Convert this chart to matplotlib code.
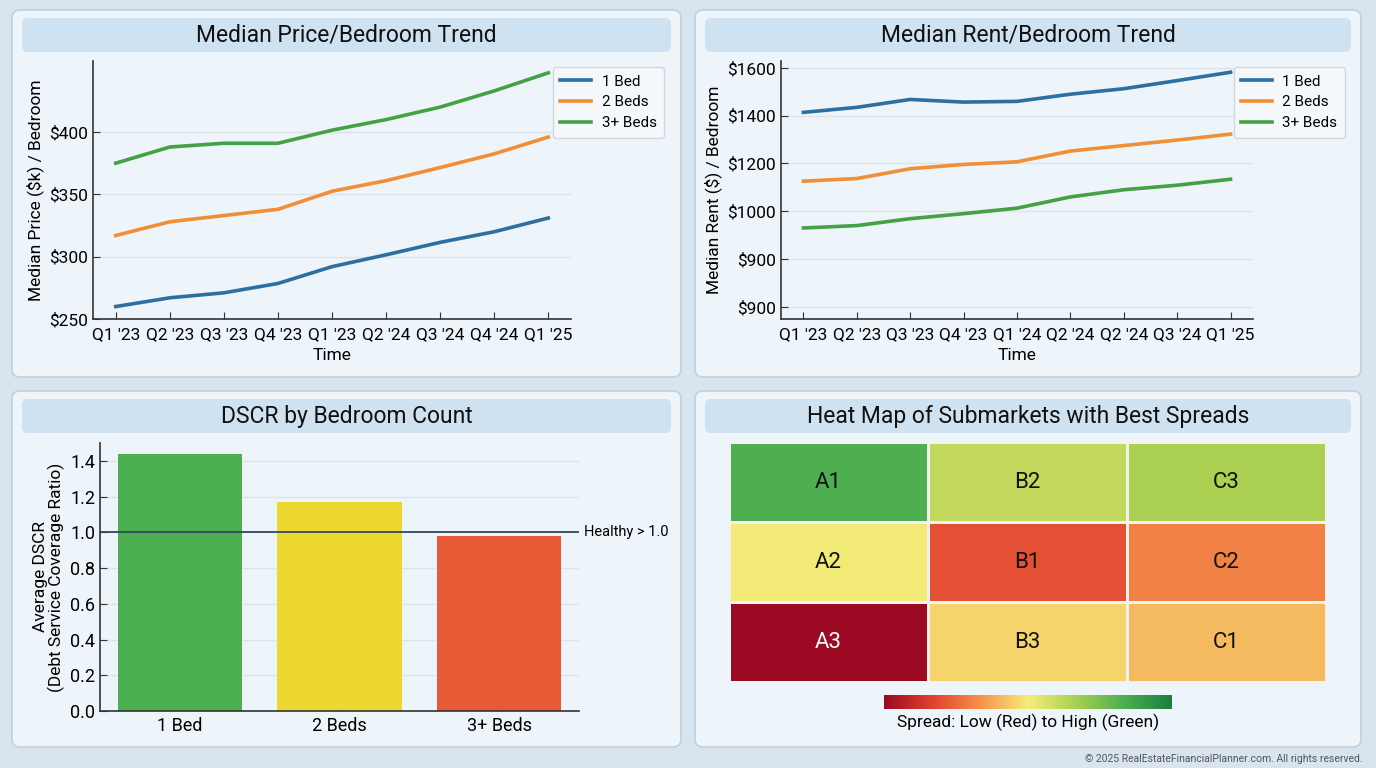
import numpy as np
import matplotlib
matplotlib.use('Agg')
import matplotlib.pyplot as plt
from matplotlib.patches import FancyBboxPatch
from matplotlib.colors import LinearSegmentedColormap, Normalize
from matplotlib.cm import ScalarMappable

plt.rcParams['font.family'] = ['Roboto', 'DejaVu Sans']

# data
price_quarters = ["Q1 '23", "Q2 '23", "Q3 '23", "Q4 '23", "Q1 '23", "Q2 '24", "Q3 '24", "Q4 '24", "Q1 '25"]
price_1bed = [260, 267, 271, 278.5, 292, 301.5, 311.5, 320, 331]
price_2beds = [317, 328, 333, 338, 352.5, 361, 371.5, 382.5, 396]
price_3beds = [375, 388, 391, 391, 401.5, 410, 420, 433, 447.5]

rent_quarters = ["Q1 '23", "Q2 '23", "Q3 '23", "Q4 '23", "Q1 '24", "Q2 '24", "Q2 '24", "Q3 '24", "Q1 '25"]
rent_1bed = [1414, 1435, 1468, 1457, 1460, 1490, 1513, 1547, 1582]
rent_2beds = [1126, 1137, 1178, 1196, 1207, 1252, 1275, 1298, 1323]
rent_3beds = [930, 940, 969, 990, 1013, 1060, 1090, 1109, 1134]
rent_ticks = [600, 800, 1000, 1200, 1400, 1600]
rent_tick_labels = ['$900', '$900', '$1000', '$1200', '$1400', '$1600']

dscr_labels = ['1 Bed', '2 Beds', '3+ Beds']
dscr_values = [1.44, 1.17, 0.98]
dscr_colors = ['#4caf50', '#ecd830', '#e65a36']

heat_labels = [['A1', 'B2', 'C3'], ['A2', 'B1', 'C2'], ['A3', 'B3', 'C1']]
heat_values = [[0.83, 0.61, 0.66], [0.51, 0.20, 0.30], [0.0, 0.455, 0.41]]

series_names = ['1 Bed', '2 Beds', '3+ Beds']
line_colors = ['#2d6fa0', '#f28e35', '#45a146']

W, H = 1376, 768
fig = plt.figure(figsize=(W / 100, H / 100), dpi=100)
fig.patch.set_facecolor('#d8e5ee')


def ax_px(x0, y0, x1, y1):
    return fig.add_axes([x0 / W, 1 - y1 / H, (x1 - x0) / W, (y1 - y0) / H])


# background panels in pixel coordinates
bg = fig.add_axes([0, 0, 1, 1], zorder=-10)
bg.set_xlim(0, W)
bg.set_ylim(H, 0)
bg.axis('off')
panels = [(12, 10, 681, 377, 'Median Price/Bedroom Trend'),
          (695, 10, 1361, 377, 'Median Rent/Bedroom Trend'),
          (12, 391, 681, 747, 'DSCR by Bedroom Count'),
          (695, 391, 1361, 747, 'Heat Map of Submarkets with Best Spreads')]
for x0, y0, x1, y1, title in panels:
    bg.add_patch(FancyBboxPatch((x0, y0), x1 - x0, y1 - y0, boxstyle='round,pad=0,rounding_size=8',
                                fc='#eef5fa', ec='#c3d0da', lw=1.2))
    bg.add_patch(FancyBboxPatch((x0 + 10, y0 + 8), x1 - x0 - 20, 34, boxstyle='round,pad=0,rounding_size=6',
                                fc='#cfe2f1', ec='none'))
    bg.text((x0 + x1) / 2, y0 + 25, title, ha='center', va='center', fontsize=16.5, color='#111111')
bg.text(1363, 759, '\u00a9 2025 RealEstateFinancialPlanner.com. All rights reserved.',
        ha='right', va='center', fontsize=7.5, color='#555555')


def style_line_ax(ax):
    ax.set_facecolor('none')
    for s in ['top', 'right']:
        ax.spines[s].set_visible(False)
    for s in ['left', 'bottom']:
        ax.spines[s].set_color('#333333')
        ax.spines[s].set_linewidth(1.2)
    ax.grid(axis='y', color='#dde3e8', lw=1)
    ax.set_axisbelow(True)
    ax.tick_params(direction='in', length=5, color='#333333', labelsize=12.5)
    ax.tick_params(axis='x', pad=6)


def add_legend(ax):
    ax.legend(loc='upper right', bbox_to_anchor=(1.195, 0.977), borderaxespad=0, fontsize=11,
              frameon=True, facecolor='#f4f8fb', edgecolor='#d0d8de', handlelength=2.0,
              handletextpad=0.7, borderpad=0.5, labelspacing=0.45, framealpha=1)


# price trend
ax1 = ax_px(93, 61, 571, 319)
x = np.arange(len(price_quarters))
for vals, name, c in zip([price_1bed, price_2beds, price_3beds], series_names, line_colors):
    ax1.plot(x, vals, color=c, lw=2.6, label=name)
ax1.set_xticks(x)
ax1.set_xticklabels(price_quarters)
ax1.set_yticks([250, 300, 350, 400])
ax1.set_yticklabels(['$250', '$300', '$350', '$400'])
ax1.set_xlim(-0.42, 8.42)
ax1.set_ylim(250, 457)
ax1.set_xlabel('Time', fontsize=12.5, labelpad=4)
ax1.set_ylabel('Median Price ($k) / Bedroom', fontsize=12.5, labelpad=4)
style_line_ax(ax1)
add_legend(ax1)

# rent trend
ax2 = ax_px(781, 61, 1253, 319)
x2 = np.arange(len(rent_quarters))
for vals, name, c in zip([rent_1bed, rent_2beds, rent_3beds], series_names, line_colors):
    ax2.plot(x2, vals, color=c, lw=2.6, label=name)
ax2.set_xticks(x2)
ax2.set_xticklabels(rent_quarters)
ax2.set_yticks(rent_ticks)
ax2.set_yticklabels(rent_tick_labels)
ax2.set_xlim(-0.42, 8.42)
ax2.set_ylim(549, 1629)
ax2.set_xlabel('Time', fontsize=12.5, labelpad=4)
ax2.set_ylabel('Median Rent ($) / Bedroom', fontsize=12.5, labelpad=4)
style_line_ax(ax2)
add_legend(ax2)

# DSCR bars
ax3 = ax_px(100, 443, 579, 711)
xb = np.arange(len(dscr_labels))
ax3.bar(xb, dscr_values, width=0.78, color=dscr_colors)
ax3.axhline(1.0, color='#2f4a5f', lw=1.3)
ax3.text(1.01, 1.0, 'Healthy > 1.0', transform=ax3.get_yaxis_transform(), ha='left', va='center', fontsize=10.5)
ax3.set_xticks(xb)
ax3.set_xticklabels(dscr_labels)
ax3.set_yticks(np.arange(0, 1.41, 0.2))
ax3.yaxis.set_major_formatter(matplotlib.ticker.FormatStrFormatter('%.1f'))
ax3.set_xlim(-0.5, 2.5)
ax3.set_ylim(0, 1.5)
ax3.set_ylabel('Average DSCR\n(Debt Service Coverage Ratio)', fontsize=12.5,
               linespacing=0.95, labelpad=4)
style_line_ax(ax3)
ax3.tick_params(axis='both', labelsize=13)
ax3.tick_params(axis='x', pad=4)

# heat map
cmap = LinearSegmentedColormap.from_list('spread', ['#9b0a22', '#e0402e', '#f5924a', '#f6ec78',
                                                    '#a8d050', '#4caf50', '#1b7f3f'])
ax4 = ax_px(729, 442, 1326, 682)
hv = np.array(heat_values)
ax4.pcolormesh(hv, cmap=cmap, vmin=0, vmax=1, edgecolors='#f2f2f2', linewidth=1.0)
ax4.set_xlim(0, 3)
ax4.set_ylim(3, 0)
ax4.axis('off')
for r in range(3):
    for c in range(3):
        tc = 'white' if hv[r, c] < 0.1 else '#111111'
        ax4.text(c + 0.5, r + 0.5, heat_labels[r][c], ha='center', va='center', fontsize=16, color=tc)

cax = ax_px(884, 695, 1172, 709)
cb = fig.colorbar(ScalarMappable(norm=Normalize(0, 1), cmap=cmap), cax=cax, orientation='horizontal')
cb.set_ticks([])
cb.outline.set_visible(False)
bg.text(1028, 722, 'Spread: Low (Red) to High (Green)', ha='center', va='center', fontsize=12.5)

fig.savefig('out.png', dpi=100, facecolor=fig.get_facecolor())
